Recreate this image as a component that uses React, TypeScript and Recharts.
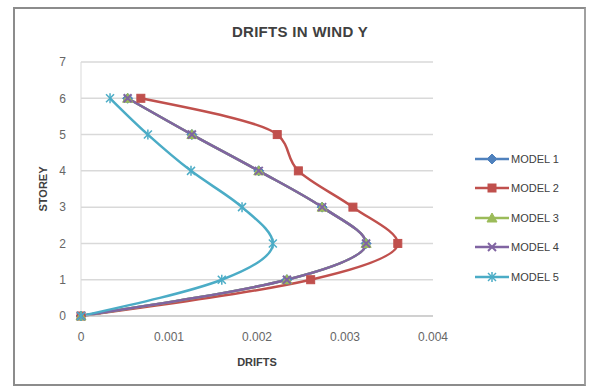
import React from "react";
import {
  ComposedChart,
  Line,
  XAxis,
  YAxis,
  CartesianGrid,
  Label,
} from "recharts";

const storeys = [0, 1, 2, 3, 4, 5, 6];
const model1 = [0, 0.00234, 0.00324, 0.00274, 0.00202, 0.00126, 0.00053];
const model2 = [0, 0.00261, 0.0036, 0.00309, 0.00247, 0.00223, 0.00068];
const model3 = [0, 0.00234, 0.00324, 0.00274, 0.00202, 0.00126, 0.00053];
const model4 = [0, 0.00234, 0.00324, 0.00274, 0.00202, 0.00126, 0.00053];
const model5 = [0, 0.0016, 0.00218, 0.00183, 0.00125, 0.00076, 0.00033];

const xTicks = [0, 0.001, 0.002, 0.003, 0.004];
const yTicks = [0, 1, 2, 3, 4, 5, 6, 7];

const data = storeys.map((s, i) => ({
  storey: s,
  m1: model1[i],
  m2: model2[i],
  m3: model3[i],
  m4: model4[i],
  m5: model5[i],
}));

const FONT = "'Liberation Sans', Arial, sans-serif";

type Shape = "diamond" | "square" | "triangle" | "x" | "star";

const series: { key: string; name: string; color: string; shape: Shape }[] = [
  { key: "m1", name: "MODEL 1", color: "#4F81BD", shape: "diamond" },
  { key: "m2", name: "MODEL 2", color: "#C0504D", shape: "square" },
  { key: "m3", name: "MODEL 3", color: "#9BBB59", shape: "triangle" },
  { key: "m4", name: "MODEL 4", color: "#8064A2", shape: "x" },
  { key: "m5", name: "MODEL 5", color: "#4BACC6", shape: "star" },
];

const Marker = ({ cx, cy, shape, color }: { cx: number; cy: number; shape: Shape; color: string }) => {
  const r = 4;
  switch (shape) {
    case "diamond":
      return (
        <polygon
          points={`${cx},${cy - r - 1} ${cx + r + 1},${cy} ${cx},${cy + r + 1} ${cx - r - 1},${cy}`}
          fill={color}
          stroke={color}
        />
      );
    case "square":
      return <rect x={cx - r} y={cy - r} width={r * 2} height={r * 2} fill={color} stroke={color} />;
    case "triangle":
      return (
        <polygon
          points={`${cx},${cy - r - 1} ${cx + r + 1},${cy + r} ${cx - r - 1},${cy + r}`}
          fill={color}
          stroke={color}
        />
      );
    case "x":
      return (
        <g stroke={color} strokeWidth={2}>
          <line x1={cx - r} y1={cy - r} x2={cx + r} y2={cy + r} />
          <line x1={cx - r} y1={cy + r} x2={cx + r} y2={cy - r} />
        </g>
      );
    default:
      return (
        <g stroke={color} strokeWidth={1.5}>
          <line x1={cx - r} y1={cy - r} x2={cx + r} y2={cy + r} />
          <line x1={cx - r} y1={cy + r} x2={cx + r} y2={cy - r} />
          <line x1={cx} y1={cy - r - 1} x2={cx} y2={cy + r + 1} />
        </g>
      );
  }
};

// legend sits to the right of the plot, outside the recharts layout
const LegendBox = () => (
  <div
    style={{
      position: "absolute",
      left: 475,
      top: 144,
      fontFamily: FONT,
      fontSize: 11,
      color: "#404040",
    }}
  >
    {series.map((s) => (
      <div key={s.key} style={{ display: "flex", alignItems: "center", height: 29.5 }}>
        <svg width={34} height={12}>
          <line x1={0} y1={6} x2={34} y2={6} stroke={s.color} strokeWidth={2.5} />
          <Marker cx={17} cy={6} shape={s.shape} color={s.color} />
        </svg>
        <span style={{ marginLeft: 2 }}>{s.name}</span>
      </div>
    ))}
  </div>
);

export default function App() {
  return (
    <div style={{ position: "absolute", left: 0, top: 0, width: 589, height: 388, background: "#fff" }}>
      <div
        style={{
          position: "absolute",
          left: 13,
          top: 7,
          width: 569,
          height: 375,
          border: "2px solid #8c8c8c",
          borderRightColor: "#a0a0a0",
        }}
      />
      <div
        style={{
          position: "absolute",
          left: 0,
          width: 600,
          top: 23,
          textAlign: "center",
          fontFamily: FONT,
          fontWeight: "bold",
          fontSize: 15,
          letterSpacing: 0.3,
          color: "#404040",
        }}
      >
        DRIFTS IN WIND Y
      </div>
      <div style={{ position: "absolute", left: 0, top: 0 }}>
        <ComposedChart
          width={589}
          height={388}
          data={data}
          layout="vertical"
          margin={{ top: 62, right: 156, bottom: 42, left: 51 }}
        >
          <CartesianGrid horizontal vertical={false} stroke="#d9d9d9" strokeWidth={1.5} />
          <XAxis
            type="number"
            domain={[0, 0.004]}
            ticks={xTicks}
            tickFormatter={(v: number) => (v === 0 ? "0" : String(v))}
            stroke="#bfbfbf"
            tick={{ fill: "#666666", fontSize: 12, fontFamily: FONT }}
            tickLine={false}
            tickMargin={10}
            height={30}
          >
            <Label
              value="DRIFTS"
              position="insideBottom"
              offset={-20}
              style={{ fill: "#404040", fontSize: 11, fontWeight: "bold", fontFamily: FONT }}
            />
          </XAxis>
          <YAxis
            type="number"
            dataKey="storey"
            domain={[0, 7]}
            ticks={yTicks}
            reversed
            stroke="#d9d9d9"
            tick={{ fill: "#666666", fontSize: 12, fontFamily: FONT }}
            tickLine={false}
            tickMargin={9}
            width={30}
          >
            <Label
              value="STOREY"
              angle={-90}
              position="insideLeft"
              offset={-8}
              style={{ fill: "#404040", fontSize: 11, fontWeight: "bold", fontFamily: FONT, textAnchor: "middle" }}
            />
          </YAxis>
          {series.map((s) => (
            <Line
              key={s.key}
              dataKey={s.key}
              name={s.name}
              type="monotone"
              stroke={s.color}
              strokeWidth={2.5}
              isAnimationActive={false}
              dot={(p: any) => (
                <Marker key={`${s.key}-${p.index}`} cx={p.cx} cy={p.cy} shape={s.shape} color={s.color} />
              )}
              activeDot={false}
            />
          ))}
        </ComposedChart>
      </div>
      <LegendBox />
    </div>
  );
}
